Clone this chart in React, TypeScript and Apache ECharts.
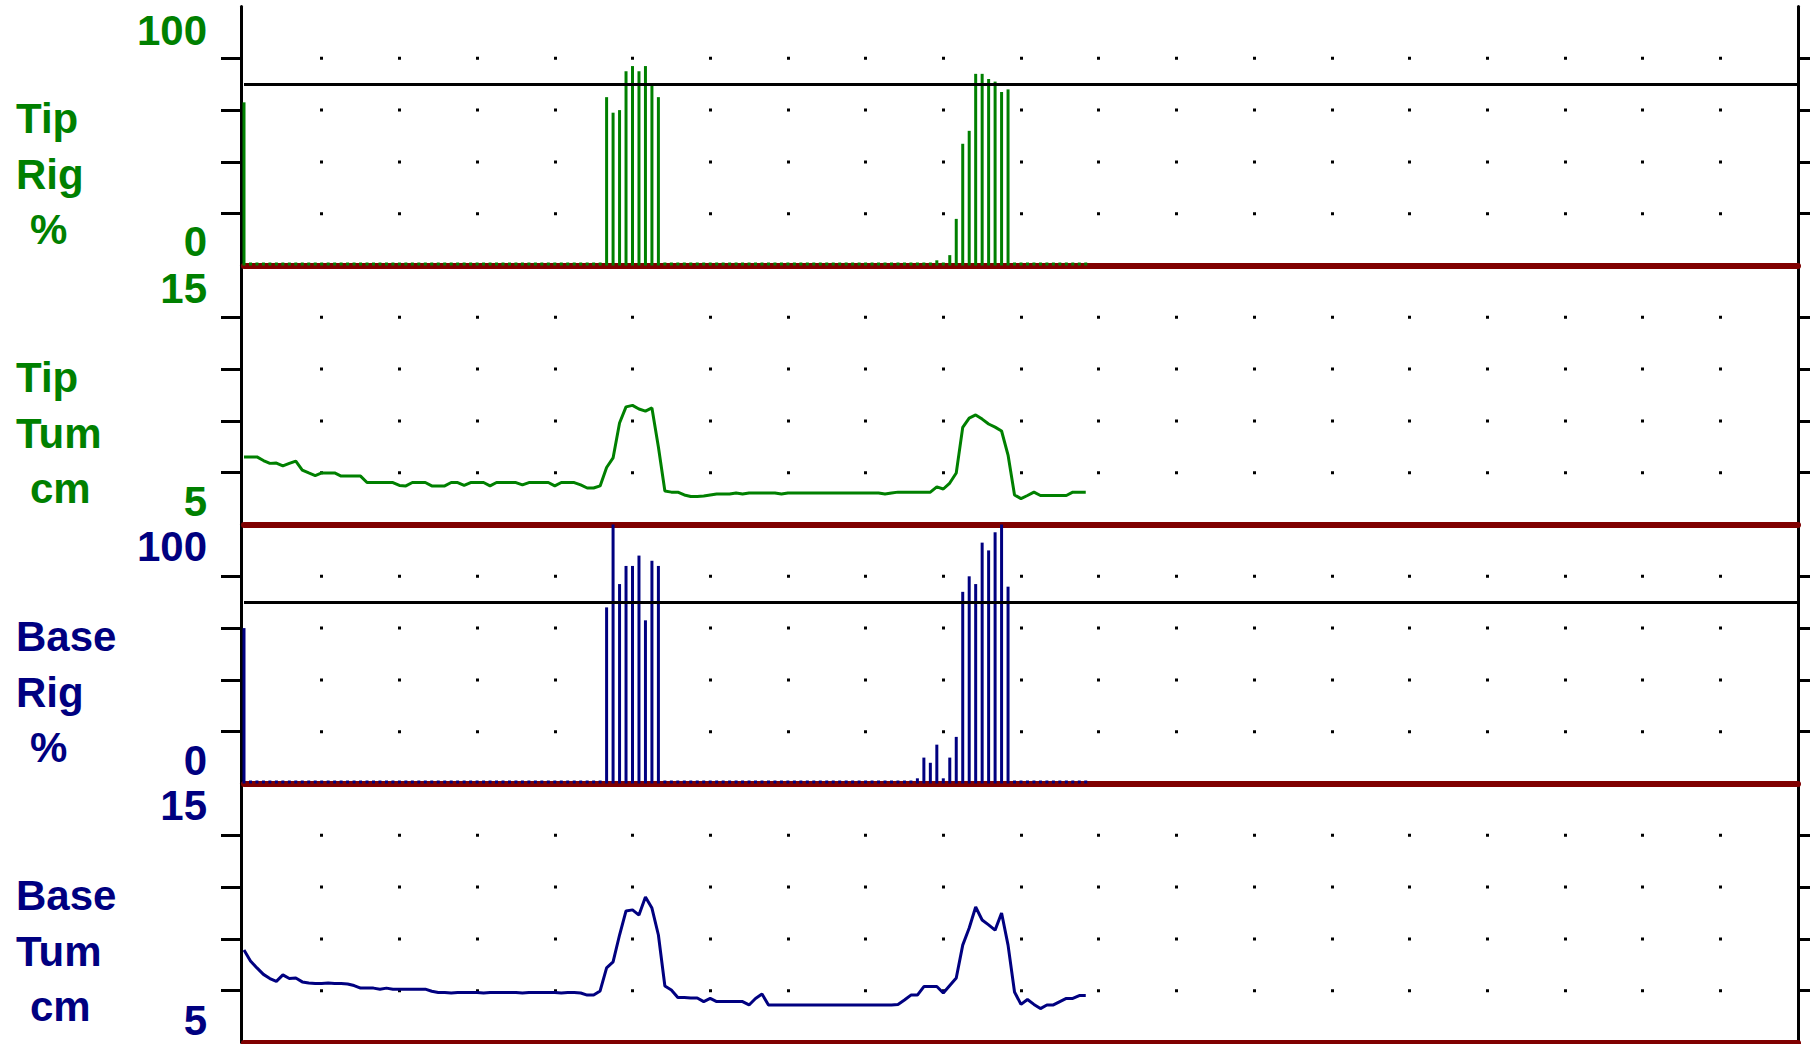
import React, { useEffect, useRef } from "react";
import * as echarts from "echarts";

// ---------- data (one sample per x step; x axis spans 240 samples) ----------
const SAMPLE_MAX = 240;
const GRID_DOT_STEP = 12;

const tipRig = [
  63, 0, 0, 0, 0, 0, 0, 0, 0, 0,
  0, 0, 0, 0, 0, 0, 0, 0, 0, 0,
  0, 0, 0, 0, 0, 0, 0, 0, 0, 0,
  0, 0, 0, 0, 0, 0, 0, 0, 0, 0,
  0, 0, 0, 0, 0, 0, 0, 0, 0, 0,
  0, 0, 0, 0, 0, 0, 65, 59, 60, 75,
  77, 75, 77, 70, 65, 0, 0, 0, 0, 0,
  0, 0, 0, 0, 0, 0, 0, 0, 0, 0,
  0, 0, 0, 0, 0, 0, 0, 0, 0, 0,
  0, 0, 0, 0, 0, 0, 0, 0, 0, 0,
  0, 0, 0, 0, 0, 0, 0, 2, 0, 4,
  18, 47, 52, 74, 74, 72, 71, 67, 68, 0,
  0, 0, 0, 0, 0, 0, 0, 0, 0, 0,
  0,
];

const tipTum = [
  7.61, 7.61, 7.61, 7.47, 7.36, 7.37, 7.26, 7.36, 7.45, 7.10,
  6.99, 6.89, 6.99, 6.99, 6.99, 6.87, 6.87, 6.87, 6.87, 6.62,
  6.62, 6.62, 6.62, 6.62, 6.51, 6.49, 6.62, 6.62, 6.62, 6.49,
  6.49, 6.49, 6.62, 6.62, 6.51, 6.62, 6.62, 6.62, 6.49, 6.62,
  6.62, 6.62, 6.62, 6.53, 6.62, 6.62, 6.62, 6.62, 6.49, 6.62,
  6.62, 6.62, 6.53, 6.41, 6.41, 6.49, 7.20, 7.57, 8.92, 9.54,
  9.60, 9.46, 9.38, 9.50, 7.99, 6.29, 6.25, 6.25, 6.14, 6.08,
  6.08, 6.10, 6.14, 6.18, 6.18, 6.18, 6.22, 6.18, 6.22, 6.22,
  6.22, 6.22, 6.22, 6.18, 6.22, 6.22, 6.22, 6.22, 6.22, 6.22,
  6.22, 6.22, 6.22, 6.22, 6.22, 6.22, 6.22, 6.22, 6.22, 6.18,
  6.22, 6.25, 6.25, 6.25, 6.25, 6.25, 6.25, 6.45, 6.37, 6.60,
  6.99, 8.75, 9.11, 9.23, 9.07, 8.88, 8.76, 8.61, 7.68, 6.14,
  6.00, 6.12, 6.25, 6.12, 6.12, 6.12, 6.12, 6.12, 6.25, 6.25,
  6.25,
];

const baseRig = [
  60, 0, 0, 0, 0, 0, 0, 0, 0, 0,
  0, 0, 0, 0, 0, 0, 0, 0, 0, 0,
  0, 0, 0, 0, 0, 0, 0, 0, 0, 0,
  0, 0, 0, 0, 0, 0, 0, 0, 0, 0,
  0, 0, 0, 0, 0, 0, 0, 0, 0, 0,
  0, 0, 0, 0, 0, 0, 68, 100, 77, 84,
  84, 88, 63, 86, 84, 0, 0, 0, 0, 0,
  0, 0, 0, 0, 0, 0, 0, 0, 0, 0,
  0, 0, 0, 0, 0, 0, 0, 0, 0, 0,
  0, 0, 0, 0, 0, 0, 0, 0, 0, 0,
  0, 0, 0, 0, 2, 10, 8, 15, 2, 10,
  18, 74, 80, 77, 93, 90, 97, 100, 76, 0,
  0, 0, 0, 0, 0, 0, 0, 0, 0, 0,
  0,
];

const baseTum = [
  8.57, 8.15, 7.88, 7.63, 7.47, 7.36, 7.61, 7.47, 7.49, 7.34,
  7.30, 7.28, 7.28, 7.30, 7.28, 7.28, 7.26, 7.20, 7.10, 7.10,
  7.10, 7.06, 7.10, 7.06, 7.06, 7.06, 7.06, 7.06, 7.06, 6.98,
  6.93, 6.93, 6.91, 6.93, 6.93, 6.93, 6.93, 6.91, 6.93, 6.93,
  6.93, 6.93, 6.93, 6.91, 6.93, 6.93, 6.93, 6.93, 6.93, 6.91,
  6.93, 6.93, 6.91, 6.83, 6.83, 6.99, 7.88, 8.11, 9.15, 10.08,
  10.12, 9.92, 10.62, 10.19, 9.15, 7.18, 7.03, 6.74, 6.74, 6.72,
  6.72, 6.58, 6.70, 6.58, 6.58, 6.58, 6.58, 6.58, 6.45, 6.70,
  6.87, 6.45, 6.45, 6.45, 6.45, 6.45, 6.45, 6.45, 6.45, 6.45,
  6.45, 6.45, 6.45, 6.45, 6.45, 6.45, 6.45, 6.45, 6.45, 6.45,
  6.45, 6.47, 6.64, 6.83, 6.83, 7.16, 7.16, 7.16, 6.91, 7.20,
  7.49, 8.76, 9.42, 10.23, 9.73, 9.54, 9.34, 10.00, 8.76, 6.95,
  6.47, 6.66, 6.47, 6.31, 6.45, 6.45, 6.58, 6.70, 6.70, 6.81,
  6.81,
];

const rigRange = [0, 100];
const tumRange = [5, 15];
const rigTicks = [20, 40, 60, 80];
const tumTicks = [7, 9, 11, 13];
const rigThreshold = 70;

const tipRigTitle = ["Tip", "Rig", "%"];
const tipTumTitle = ["Tip", "Tum", "cm"];
const baseRigTitle = ["Base", "Rig", "%"];
const baseTumTitle = ["Base", "Tum", "cm"];

// ---------- styling ----------
const GREEN = "#008000";
const NAVY = "#000080";
const MAROON = "#800000";
const FONT = "Liberation Sans";

const TOP0 = 6.5;
const PH = 259;
const LEFT = 244;
const RIGHT = 12;

const panels = [
  { kind: "bar", data: tipRig, range: rigRange, ticks: rigTicks, color: GREEN, titles: tipRigTitle, shiftTop: 24, shiftBottom: 24 },
  { kind: "line", data: tipTum, range: tumRange, ticks: tumTicks, color: GREEN, titles: tipTumTitle, shiftTop: 23, shiftBottom: 23 },
  { kind: "bar", data: baseRig, range: rigRange, ticks: rigTicks, color: NAVY, titles: baseRigTitle, shiftTop: 22, shiftBottom: 23 },
  { kind: "line", data: baseTum, range: tumRange, ticks: tumTicks, color: NAVY, titles: baseTumTitle, shiftTop: 22, shiftBottom: 22 },
];

// dotted grid: one 3px dot at each interior tick level of the panel
const step = PH / 5;
const dotDash = [0, step - 1.5, 3, step - 3, 3, step - 3, 3, step - 3, 3, step * 2];

function buildOption() {
  const grid = panels.map((_, k) => ({ left: LEFT, right: RIGHT, top: TOP0 + PH * k, height: PH }));

  const xAxis = panels.map((_, k) => ({
    gridIndex: k,
    type: "value",
    min: 0,
    max: SAMPLE_MAX,
    interval: GRID_DOT_STEP,
    axisLine: { show: true, onZero: false, lineStyle: { color: MAROON, width: 6 } },
    axisTick: { show: false },
    axisLabel: { show: false },
    splitLine: {
      show: true,
      showMinLine: false,
      showMaxLine: false,
      lineStyle: { color: "#000", width: 3, type: dotDash },
    },
  }));

  const yAxis: any[] = [];
  panels.forEach((p, k) => {
    const [mn, mx] = p.range;
    const itv = (mx - mn) / 5;
    const base = { fontSize: 42, fontWeight: "bold", fontFamily: FONT, color: p.color };
    yAxis.push({
      gridIndex: k,
      type: "value",
      position: "left",
      offset: 3,
      min: mn,
      max: mx,
      interval: itv,
      axisLine: { show: true, onZero: false, lineStyle: { color: "#000", width: 3 } },
      axisTick: { show: true, length: 20, customValues: p.ticks, lineStyle: { color: "#000", width: 3 } },
      axisLabel: {
        show: true,
        customValues: [mn, mx],
        showMinLabel: true,
        showMaxLabel: true,
        margin: 34,
        formatter: (v: number) => (v === mx ? `{t|${v}}` : v === mn ? `{b|${v}}` : ""),
        rich: {
          t: { ...base, padding: [p.shiftTop * 2, 0, 0, 0] },
          b: { ...base, padding: [0, 0, p.shiftBottom * 2, 0] },
        },
      },
      splitLine: { show: false },
    });
    yAxis.push({
      gridIndex: k,
      type: "value",
      position: "right",
      min: mn,
      max: mx,
      interval: itv,
      axisLine: { show: true, onZero: false, lineStyle: { color: "#000", width: 3 } },
      axisTick: { show: true, length: 12, customValues: p.ticks, lineStyle: { color: "#000", width: 3 } },
      axisLabel: { show: false },
      splitLine: { show: false },
    });
  });

  const series = panels.map((p, k) => {
    const data = p.data.map((v, i) => [i, v]);
    if (p.kind === "bar") {
      return {
        type: "bar",
        xAxisIndex: k,
        yAxisIndex: 2 * k,
        data,
        barWidth: 3,
        barMinHeight: 3,
        itemStyle: { color: p.color },
        markLine: {
          silent: true,
          symbol: ["none", "none"],
          label: { show: false },
          lineStyle: { color: "#000", width: 3, type: "solid" },
          data: [{ yAxis: rigThreshold }],
        },
      };
    }
    return {
      type: "line",
      xAxisIndex: k,
      yAxisIndex: 2 * k,
      data,
      symbol: "none",
      showSymbol: false,
      lineStyle: { color: p.color, width: 3 },
      itemStyle: { color: p.color },
    };
  });

  const lineOffsets = [112, 168, 223];
  const lineX = [16, 16, 30];
  const graphic = panels.flatMap((p, k) =>
    p.titles.map((t, j) => ({
      type: "text",
      x: lineX[j],
      y: TOP0 + PH * k + lineOffsets[j],
      style: {
        text: t,
        fill: p.color,
        fontSize: 42,
        fontWeight: "bold",
        fontFamily: FONT,
        verticalAlign: "middle",
        align: "left",
      },
    }))
  );

  return {
    animation: false,
    backgroundColor: "#fff",
    textStyle: { fontFamily: FONT },
    grid,
    xAxis,
    yAxis,
    series,
    graphic,
  };
}

export default function App() {
  const ref = useRef<HTMLDivElement>(null);
  useEffect(() => {
    document.body.style.margin = "0";
    if (!ref.current) return;
    const chart = echarts.init(ref.current, undefined, { renderer: "svg" });
    chart.setOption(buildOption() as any);
    return () => chart.dispose();
  }, []);
  return (
    <div
      ref={ref}
      style={{ position: "absolute", left: 0, top: 0, width: 1810, height: 1044, background: "#fff" }}
    />
  );
}
